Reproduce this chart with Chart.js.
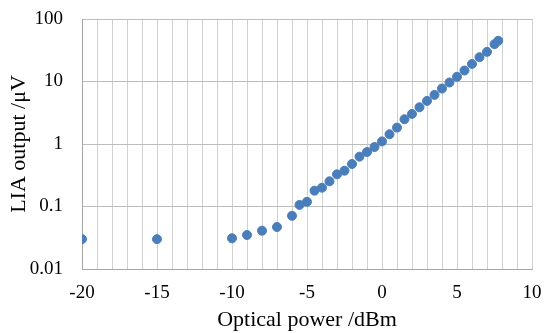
<!DOCTYPE html>
<html>
<head>
<meta charset="utf-8">
<script src="https://cdn.jsdelivr.net/npm/chart.js@4"></script>
<style>
  html, body { margin: 0; padding: 0; background: #fff; }
  #wrap { width: 544px; height: 333px; }
</style>
</head>
<body>
<div id="wrap"><canvas id="c" width="544" height="333"></canvas></div>
<script>
// optical power (dBm) vs lock-in amplifier output (uV)
const powerDbm = [-20, -15, -10, -9, -8, -7, -6, -5.5, -5, -4.5, -4, -3.5, -3, -2.5, -2, -1.5, -1, -0.5,
  0, 0.5, 1, 1.5, 2, 2.5, 3, 3.5, 4, 4.5, 5, 5.5, 6, 6.5, 7, 7.5, 7.75];
const liaOutput = [0.030, 0.030, 0.031, 0.035, 0.041, 0.047, 0.071, 0.106, 0.119, 0.179, 0.20, 0.253, 0.327, 0.374, 0.479, 0.627, 0.745, 0.895,
  1.10, 1.43, 1.83, 2.49, 3.03, 3.87, 4.89, 6.10, 7.72, 9.64, 11.9, 15.0, 19.1, 24.5, 29.8, 39.6, 44.8];
const yTicks = [0.01, 0.1, 1, 10, 100];
const xLabelEvery = 5;

const family = '"Liberation Serif", "Times New Roman", serif';
const tickFont = { family, size: 19 };
const titleFont = { family, size: 22 };

new Chart(document.getElementById('c'), {
  type: 'scatter',
  data: {
    datasets: [{
      data: powerDbm.map((x, i) => ({ x, y: liaOutput[i] })),
      backgroundColor: '#4a7ebb',
      borderColor: '#4a7ebb',
      pointRadius: 4.5,
      pointHoverRadius: 4.5,
    }]
  },
  options: {
    responsive: false,
    animation: false,
    layout: { padding: { top: 19, right: 12, left: 0, bottom: 0 } },
    plugins: { legend: { display: false }, tooltip: { enabled: false } },
    scales: {
      x: {
        type: 'linear',
        min: -20,
        max: 10,
        afterFit: s => { s.height = 64; s.paddingLeft = 0; s.paddingRight = 0; },
        grid: { color: '#d0d0d0', drawTicks: false },
        border: { color: '#a6a6a6' },
        ticks: {
          stepSize: 1,
          autoSkip: false,
          maxRotation: 0,
          padding: 13,
          color: '#000',
          font: tickFont,
          callback: v => (v % xLabelEvery === 0 ? String(v) : ''),
        },
        title: { display: true, text: 'Optical power /dBm', color: '#000', font: titleFont, padding: { top: 0, bottom: 0 } },
      },
      y: {
        type: 'logarithmic',
        min: 0.01,
        max: 100,
        afterFit: s => { s.width = 82; s.paddingTop = 0; s.paddingBottom = 0; },
        afterBuildTicks: s => { s.ticks = yTicks.map(v => ({ value: v })); },
        grid: { color: '#bdbdbd', drawTicks: false },
        border: { color: '#a6a6a6' },
        ticks: {
          padding: 19,
          color: '#000',
          font: tickFont,
          callback: v => String(v),
        },
        title: { display: true, text: 'LIA output /μV', color: '#000', font: titleFont, padding: { top: 6, bottom: 0 } },
      }
    }
  }
});
</script>
</body>
</html>
